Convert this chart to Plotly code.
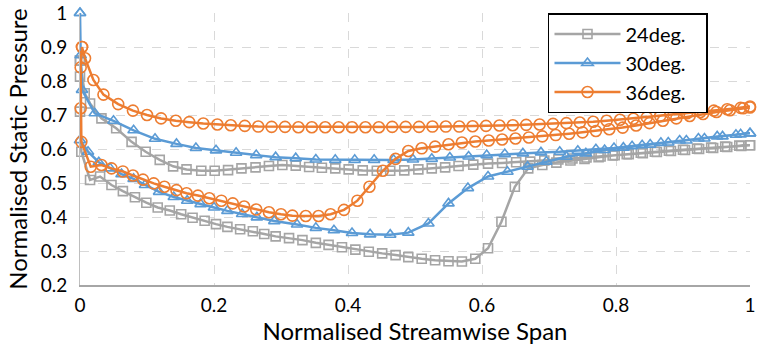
import plotly.graph_objects as go

# ---------------- data ----------------
series_names = ["24deg.", "30deg.", "36deg."]

# 24 deg (grey squares)
x_up_24 = [0.000, 0.007, 0.015, 0.032, 0.054, 0.077, 0.098, 0.119, 0.139, 0.159, 0.181, 0.201,
           0.221, 0.241, 0.262, 0.282, 0.302, 0.322, 0.342, 0.361, 0.381, 0.401, 0.422, 0.443,
           0.463, 0.484, 0.505, 0.525, 0.545, 0.565, 0.587, 0.609, 0.630, 0.651, 0.672, 0.693,
           0.714, 0.735, 0.756, 0.777, 0.798, 0.819, 0.840, 0.861, 0.882, 0.903, 0.924, 0.945,
           0.966, 0.987, 1.000]
y_up_24 = [0.860, 0.764, 0.734, 0.690, 0.661, 0.621, 0.592, 0.568, 0.549, 0.540, 0.536, 0.536,
           0.538, 0.543, 0.546, 0.550, 0.553, 0.551, 0.547, 0.545, 0.543, 0.540, 0.537, 0.536,
           0.536, 0.537, 0.540, 0.543, 0.546, 0.550, 0.554, 0.557, 0.559, 0.561, 0.563, 0.566,
           0.569, 0.572, 0.575, 0.578, 0.582, 0.585, 0.588, 0.591, 0.594, 0.597, 0.600, 0.603,
           0.606, 0.609, 0.611]
x_lo_24 = [0.000, 0.000, 0.000, 0.002, 0.015, 0.030, 0.047, 0.064, 0.082, 0.099, 0.116, 0.134,
           0.151, 0.168, 0.186, 0.203, 0.220, 0.239, 0.258, 0.275, 0.292, 0.312, 0.332, 0.352,
           0.371, 0.391, 0.411, 0.431, 0.451, 0.471, 0.490, 0.510, 0.530, 0.550, 0.570, 0.590,
           0.609, 0.629, 0.649, 0.669, 0.690, 0.711, 0.732, 0.753, 0.774, 0.795, 0.816, 0.837,
           0.858, 0.879, 0.900, 0.921, 0.942, 0.963, 0.984, 1.000]
y_lo_24 = [0.860, 0.813, 0.710, 0.592, 0.509, 0.519, 0.494, 0.476, 0.458, 0.442, 0.428, 0.419,
           0.408, 0.398, 0.389, 0.379, 0.371, 0.364, 0.358, 0.350, 0.343, 0.338, 0.332, 0.324,
           0.318, 0.311, 0.304, 0.298, 0.293, 0.288, 0.282, 0.277, 0.273, 0.270, 0.269, 0.277,
           0.308, 0.386, 0.489, 0.543, 0.553, 0.560, 0.566, 0.571, 0.576, 0.581, 0.585, 0.589,
           0.592, 0.595, 0.598, 0.601, 0.604, 0.607, 0.610, 0.611]

# 30 deg (blue triangles)
x_up_30 = [0.000, 0.001, 0.003, 0.022, 0.050, 0.080, 0.112, 0.144, 0.173, 0.203, 0.233, 0.263,
           0.292, 0.322, 0.352, 0.381, 0.410, 0.439, 0.468, 0.497, 0.525, 0.552, 0.580, 0.607,
           0.634, 0.661, 0.688, 0.716, 0.743, 0.770, 0.797, 0.824, 0.851, 0.878, 0.905, 0.932,
           0.959, 0.986, 1.000]
y_up_30 = [1.000, 0.876, 0.774, 0.705, 0.683, 0.655, 0.630, 0.615, 0.603, 0.596, 0.589, 0.582,
           0.576, 0.573, 0.569, 0.568, 0.568, 0.568, 0.568, 0.569, 0.571, 0.575, 0.578, 0.582,
           0.585, 0.587, 0.590, 0.592, 0.595, 0.599, 0.603, 0.608, 0.613, 0.619, 0.625, 0.631,
           0.637, 0.643, 0.646]
x_lo_30 = [0.000, 0.000, 0.012, 0.028, 0.045, 0.062, 0.080, 0.097, 0.118, 0.140, 0.160, 0.180,
           0.200, 0.220, 0.242, 0.264, 0.290, 0.324, 0.352, 0.379, 0.406, 0.433, 0.463, 0.490,
           0.520, 0.550, 0.579, 0.609, 0.638, 0.668, 0.696, 0.726, 0.755, 0.783, 0.811, 0.839,
           0.867, 0.895, 0.923, 0.951, 0.979, 1.000]
y_lo_30 = [1.000, 0.626, 0.592, 0.561, 0.543, 0.526, 0.512, 0.494, 0.474, 0.459, 0.448, 0.438,
           0.428, 0.418, 0.409, 0.399, 0.388, 0.378, 0.368, 0.361, 0.353, 0.349, 0.348, 0.354,
           0.381, 0.440, 0.485, 0.519, 0.533, 0.548, 0.563, 0.577, 0.587, 0.597, 0.604, 0.611,
           0.618, 0.625, 0.631, 0.637, 0.642, 0.646]

# 36 deg (orange circles)
x_up_36 = [0.003, 0.0075, 0.020, 0.035, 0.057, 0.079, 0.100, 0.121, 0.143, 0.163, 0.184, 0.205,
           0.225, 0.246, 0.266, 0.286, 0.306, 0.326, 0.346, 0.366, 0.386, 0.406, 0.426, 0.446,
           0.466, 0.486, 0.506, 0.526, 0.546, 0.566, 0.586, 0.606, 0.626, 0.646, 0.666, 0.686,
           0.706, 0.726, 0.746, 0.766, 0.786, 0.806, 0.826, 0.846, 0.866, 0.886, 0.906, 0.926,
           0.946, 0.966, 0.986, 1.000]
y_up_36 = [0.900, 0.867, 0.803, 0.760, 0.732, 0.713, 0.700, 0.690, 0.683, 0.679, 0.675, 0.672,
           0.670, 0.668, 0.666, 0.665, 0.665, 0.664, 0.664, 0.664, 0.664, 0.664, 0.664, 0.664,
           0.665, 0.665, 0.665, 0.666, 0.666, 0.666, 0.667, 0.668, 0.669, 0.670, 0.671, 0.672,
           0.674, 0.676, 0.678, 0.680, 0.683, 0.686, 0.689, 0.693, 0.697, 0.701, 0.705, 0.709,
           0.713, 0.717, 0.721, 0.725]
x_lo_36 = [0.003, 0.001, 0.001, 0.002, 0.016, 0.032, 0.047, 0.064, 0.079, 0.094, 0.110, 0.126,
           0.144, 0.159, 0.176, 0.193, 0.211, 0.228, 0.245, 0.263, 0.282, 0.300, 0.317, 0.337,
           0.356, 0.374, 0.394, 0.414, 0.432, 0.452, 0.471, 0.490, 0.510, 0.530, 0.550, 0.570,
           0.590, 0.610, 0.630, 0.650, 0.670, 0.690, 0.710, 0.730, 0.750, 0.770, 0.790, 0.810,
           0.830, 0.850, 0.870, 0.890, 0.910, 0.930, 0.950, 0.970, 0.990, 1.000]
y_lo_36 = [0.900, 0.840, 0.720, 0.621, 0.548, 0.553, 0.543, 0.534, 0.522, 0.510, 0.499, 0.489,
           0.479, 0.470, 0.463, 0.455, 0.448, 0.440, 0.431, 0.422, 0.414, 0.408, 0.404, 0.403,
           0.403, 0.408, 0.421, 0.448, 0.489, 0.536, 0.571, 0.594, 0.602, 0.607, 0.614, 0.619,
           0.622, 0.625, 0.628, 0.631, 0.634, 0.637, 0.641, 0.645, 0.649, 0.653, 0.658, 0.663,
           0.669, 0.676, 0.683, 0.690, 0.697, 0.703, 0.709, 0.714, 0.720, 0.722]

x_ticks = [0, 0.2, 0.4, 0.6, 0.8, 1.0]
x_tick_labels = ["0", "0.2", "0.4", "0.6", "0.8", "1"]
y_ticks = [0.2, 0.3, 0.4, 0.5, 0.6, 0.7, 0.8, 0.9, 1.0]
y_tick_labels = ["0.2", "0.3", "0.4", "0.5", "0.6", "0.7", "0.8", "0.9", "1"]

# ---------------- styles ----------------
colors = ["#A5A5A5", "#5B9BD5", "#ED7D31"]
symbols = ["square-open", "triangle-up-open", "circle-open"]
msizes = [9, 10, 11]

data = [
    (x_up_24, y_up_24, x_lo_24, y_lo_24),
    (x_up_30, y_up_30, x_lo_30, y_lo_30),
    (x_up_36, y_up_36, x_lo_36, y_lo_36),
]

FONT = "Lato, 'Open Sans', sans-serif"
PAD = "\u00a0\u00a0\u00a0"  # right padding inside the legend box

fig = go.Figure()
for i, (xu, yu, xl, yl) in enumerate(data):
    xs = list(reversed(xu)) + list(xl)
    ys = list(reversed(yu)) + list(yl)
    fig.add_trace(go.Scatter(
        x=xs, y=ys, name=series_names[i] + PAD, mode="lines+markers",
        line=dict(color=colors[i], width=2.5),
        marker=dict(symbol=symbols[i], size=msizes[i], color=colors[i],
                    line=dict(color=colors[i], width=1.6)),
        cliponaxis=False,
    ))

fig.update_layout(
    width=757, height=346,
    margin=dict(l=80, r=7, t=13, b=61, autoexpand=False),
    paper_bgcolor="white", plot_bgcolor="white",
    font=dict(family=FONT, size=19, color="#000000"),
    showlegend=True,
    legend=dict(
        x=0.6985, y=1.0, xanchor="left", yanchor="top",
        bgcolor="white", bordercolor="#000000", borderwidth=1.5,
        font=dict(family=FONT, size=20, color="#000000"),
        itemwidth=66, tracegroupgap=0,
    ),
    xaxis=dict(
        range=[0, 1], tickvals=x_ticks, ticktext=x_tick_labels,
        showgrid=True, gridcolor="#D9D9D9", griddash="dash", gridwidth=1,
        showline=True, linecolor="#A6A6A6", linewidth=2, zeroline=False,
        ticks="", ticklabelstandoff=2, ticklabeloverflow="allow", automargin=False,
        tickfont=dict(family=FONT, size=19),
        title=dict(text="Normalised Streamwise Span", font=dict(family=FONT, size=24), standoff=6),
    ),
    yaxis=dict(
        range=[0.2, 1], tickvals=y_ticks, ticktext=y_tick_labels,
        showgrid=True, gridcolor="#D9D9D9", griddash="dash", gridwidth=1,
        showline=True, linecolor="#BFBFBF", linewidth=1, zeroline=False,
        ticks="", ticklabelstandoff=8, automargin=False,
        tickfont=dict(family=FONT, size=19),
        title=dict(text="Normalised Static Pressure", font=dict(family=FONT, size=24), standoff=6),
    ),
)

fig.write_html("out.html")
